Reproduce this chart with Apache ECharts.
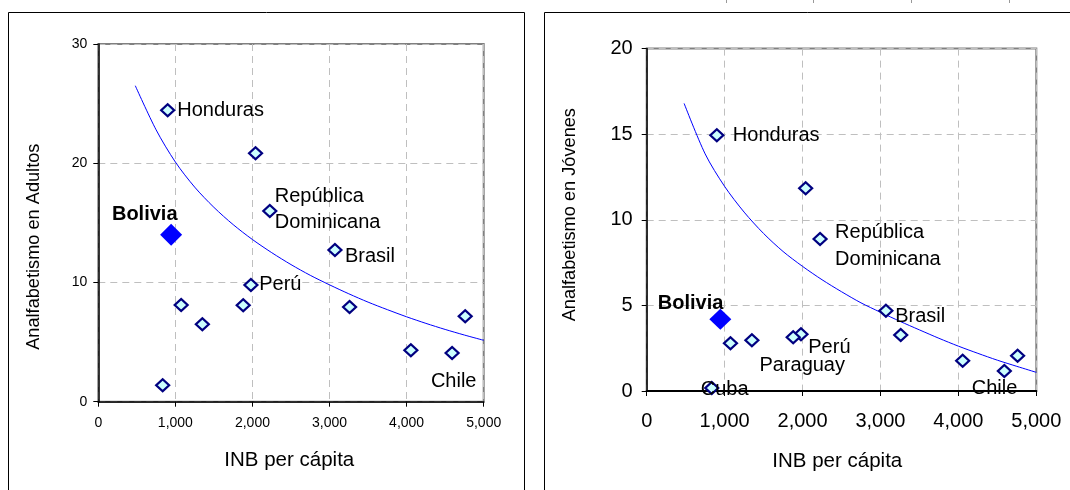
<!DOCTYPE html>
<html>
<head>
<meta charset="utf-8">
<script src="https://cdn.jsdelivr.net/npm/echarts@6/dist/echarts.min.js"></script>
<style>
  html, body { margin: 0; padding: 0; background: #fff; }
  #chart { width: 1070px; height: 490px; }
</style>
</head>
<body>
<div id="chart"></div>
<script>
// ---------------- DATA ----------------
const gniPerCapita   = [900, 2040, 2225, 3070, 1980, 1075, 1350, 1880, 3260, 4760, 4055, 4590, 835];
const adultIllit     = [24.45, 20.84, 16.0, 12.73, 9.79, 8.11, 6.49, 8.08, 7.94, 7.16, 4.31, 4.08, 1.37];
const youthIllit     = [14.94, 11.84, 8.88, 4.69, 3.31, 2.79, 2.96, 3.14, 3.27, 2.06, 1.77, 1.17, 0.18];
const adultLabels    = ['Honduras', '', 'República\nDominicana', 'Brasil', 'Perú', '', '', '', '', '', '', 'Chile', ''];
const youthLabels    = ['Honduras', '', 'República\nDominicana', 'Brasil', 'Perú', '', '', 'Paraguay', '', '', '', 'Chile', 'Cuba'];

const boliviaName  = 'Bolivia';
const boliviaGni   = 945;
const boliviaAdult = 14.0;
const boliviaYouth = 4.19;

// trend curves
const trendX      = [480, 750, 1000, 1250, 1500, 1750, 2000, 2250, 2500, 2750, 3000, 3250, 3500, 3750, 4000, 4250, 4500, 4750, 5000];
const adultTrendY = [26.5, 22.8, 20.1, 18.0, 16.3, 14.85, 13.6, 12.5, 11.5, 10.6, 9.8, 9.05, 8.35, 7.72, 7.12, 6.57, 6.06, 5.59, 5.15];
const youthTrendY = [16.8, 13.85, 11.95, 10.45, 9.2, 8.15, 7.28, 6.5, 5.8, 5.15, 4.6, 4.07, 3.57, 3.08, 2.62, 2.2, 1.8, 1.44, 1.09];

const xTicks = { min: 0, max: 5000, step: 1000 };
const adultTicks = { min: 0, max: 30, step: 10 };
const youthTicks = { min: 0, max: 20, step: 5 };

const xTitle = 'INB per cápita';
const adultTitle = 'Analfabetismo en Adultos';
const youthTitle = 'Analfabetismo en Jóvenes';

// ---------------- LAYOUT / STYLE ----------------
const FONT = "'Liberation Sans', Arial, sans-serif";
const labelLayoutLeft = {
  'Honduras': { align: 'left', offset: [9.6, 0.7] },
  'República\nDominicana': { align: 'left', offset: [5, -1], lineHeight: 26 },
  'Brasil': { align: 'left', offset: [10, 7] },
  'Perú': { align: 'left', offset: [8.3, 0] },
  'Chile': { align: 'center', offset: [1.6, 28] },
  'Bolivia': { align: 'center', offset: [-26.4, -20] }
};
const labelLayoutRight = {
  'Honduras': { align: 'left', offset: [16, 0] },
  'República\nDominicana': { align: 'left', offset: [15, 7], lineHeight: 26.7 },
  'Brasil': { align: 'left', offset: [9.3, 6] },
  'Perú': { align: 'left', offset: [7.3, 13.2] },
  'Paraguay': { align: 'center', offset: [9, 28.5] },
  'Cuba': { align: 'left', offset: [-11, 1.5] },
  'Chile': { align: 'center', offset: [-9.8, 18] },
  'Bolivia': { align: 'center', offset: [-29.7, -16] }
};

function thousands(v) { return String(v).replace(/\B(?=(\d{3})+(?!\d))/g, ','); }

function labelCfg(name, layout, bold) {
  if (!name) return { show: false };
  const l = layout[name] || { align: 'center', offset: [0, 0] };
  return {
    show: true, position: 'inside', formatter: name,
    align: l.align, verticalAlign: 'middle', offset: l.offset,
    lineHeight: l.lineHeight || 22,
    fontSize: 20, fontFamily: FONT, color: '#000', opacity: 1,
    fontWeight: bold ? 'bold' : 'normal'
  };
}

function xAxisCfg(gridIndex, labelSize, margin, axisWidth) {
  return {
    gridIndex, type: 'value', min: xTicks.min, max: xTicks.max, interval: xTicks.step,
    axisLine: { show: true, onZero: false, lineStyle: { color: '#000', width: axisWidth } },
    axisTick: { show: true, length: 5, lineStyle: { color: '#000', width: 1 } },
    axisLabel: { fontSize: labelSize, fontFamily: FONT, color: '#000', margin, formatter: thousands },
    splitLine: { show: true, lineStyle: { color: '#bfbfbf', width: 1, type: [7, 5] } }
  };
}
function yAxisCfg(gridIndex, ticks, labelSize, margin, axisWidth) {
  return {
    gridIndex, type: 'value', min: ticks.min, max: ticks.max, interval: ticks.step,
    axisLine: { show: true, onZero: false, lineStyle: { color: '#000', width: axisWidth } },
    axisTick: { show: true, length: 5, lineStyle: { color: '#000', width: 1 } },
    axisLabel: { fontSize: labelSize, fontFamily: FONT, color: '#000', margin },
    splitLine: { show: true, lineStyle: { color: '#bfbfbf', width: 1, type: [7, 5] } }
  };
}

const pointStyle = { color: '#ccffff', borderColor: '#000080', borderWidth: 2.2, opacity: 1 };

function pointsData(ys, labels, layout) {
  return gniPerCapita.map((x, i) => ({ value: [x, ys[i]], label: labelCfg(labels[i], layout, false) }));
}
function trendData(ys) { return trendX.map((x, i) => [x, ys[i]]); }

const option = {
  animation: false,
  backgroundColor: '#fff',
  grid: [
    { left: 98.3, top: 44, width: 385.4, height: 357.7, show: true, borderColor: '#808080', borderWidth: 2, containLabel: false },
    { left: 646.7, top: 48.6, width: 389.6, height: 342.4, show: true, borderColor: '#808080', borderWidth: 2, containLabel: false }
  ],
  xAxis: [ xAxisCfg(0, 14, 14, 1.5), xAxisCfg(1, 20, 20, 2) ],
  yAxis: [ yAxisCfg(0, adultTicks, 14, 11, 1.5), yAxisCfg(1, youthTicks, 20, 14, 1.5) ],
  series: [
    { type: 'line', xAxisIndex: 0, yAxisIndex: 0, data: trendData(adultTrendY), showSymbol: false, smooth: 0.3,
      lineStyle: { color: '#0000ff', width: 1 }, z: 2, silent: true },
    { type: 'scatter', xAxisIndex: 0, yAxisIndex: 0, symbol: 'diamond', symbolSize: [13, 12],
      itemStyle: pointStyle, data: pointsData(adultIllit, adultLabels, labelLayoutLeft), z: 3, silent: true },
    { type: 'scatter', xAxisIndex: 0, yAxisIndex: 0, symbol: 'diamond', symbolSize: [22, 22],
      itemStyle: { color: '#0000ff', opacity: 1 }, z: 4, silent: true,
      data: [{ value: [boliviaGni, boliviaAdult], label: labelCfg(boliviaName, labelLayoutLeft, true) }] },

    { type: 'line', xAxisIndex: 1, yAxisIndex: 1, data: trendData(youthTrendY), showSymbol: false, smooth: 0.3,
      lineStyle: { color: '#0000ff', width: 1 }, z: 2, silent: true },
    { type: 'scatter', xAxisIndex: 1, yAxisIndex: 1, symbol: 'diamond', symbolSize: [13, 12],
      itemStyle: pointStyle, data: pointsData(youthIllit, youthLabels, labelLayoutRight), z: 3, silent: true },
    { type: 'scatter', xAxisIndex: 1, yAxisIndex: 1, symbol: 'diamond', symbolSize: [22, 21],
      itemStyle: { color: '#0000ff', opacity: 1 }, z: 4, silent: true,
      data: [{ value: [boliviaGni, boliviaYouth], label: labelCfg(boliviaName, labelLayoutRight, true) }] }
  ],
  graphic: [
    { type: 'rect', shape: { x: 8.5, y: 12.5, width: 516, height: 520 }, style: { fill: 'none', stroke: '#000', lineWidth: 1 }, silent: true },
    { type: 'rect', shape: { x: 544.5, y: 12.5, width: 600, height: 520 }, style: { fill: 'none', stroke: '#000', lineWidth: 1 }, silent: true },
    { type: 'text', x: 289.3, y: 460, style: { text: xTitle, fontSize: 20.5, fontFamily: FONT, fill: '#000', align: 'center', verticalAlign: 'middle' }, silent: true },
    { type: 'text', x: 837.3, y: 461, style: { text: xTitle, fontSize: 20.5, fontFamily: FONT, fill: '#000', align: 'center', verticalAlign: 'middle' }, silent: true },
    { type: 'text', x: 33.5, y: 246.7, rotation: Math.PI / 2, style: { text: adultTitle, fontSize: 18.2, fontFamily: FONT, fill: '#000', align: 'center', verticalAlign: 'middle' }, silent: true },
    { type: 'text', x: 569.5, y: 214.7, rotation: Math.PI / 2, style: { text: youthTitle, fontSize: 18.2, fontFamily: FONT, fill: '#000', align: 'center', verticalAlign: 'middle' }, silent: true },
    { type: 'line', shape: { x1: 726.5, y1: 0, x2: 726.5, y2: 3 }, style: { stroke: '#999', lineWidth: 1 }, silent: true },
    { type: 'line', shape: { x1: 813.5, y1: 0, x2: 813.5, y2: 3 }, style: { stroke: '#999', lineWidth: 1 }, silent: true },
    { type: 'line', shape: { x1: 911.5, y1: 0, x2: 911.5, y2: 3 }, style: { stroke: '#999', lineWidth: 1 }, silent: true },
    { type: 'line', shape: { x1: 1009.5, y1: 0, x2: 1009.5, y2: 3 }, style: { stroke: '#999', lineWidth: 1 }, silent: true }
  ]
};

const chart = echarts.init(document.getElementById('chart'), null, { renderer: 'canvas' });
chart.setOption(option);
</script>
</body>
</html>
